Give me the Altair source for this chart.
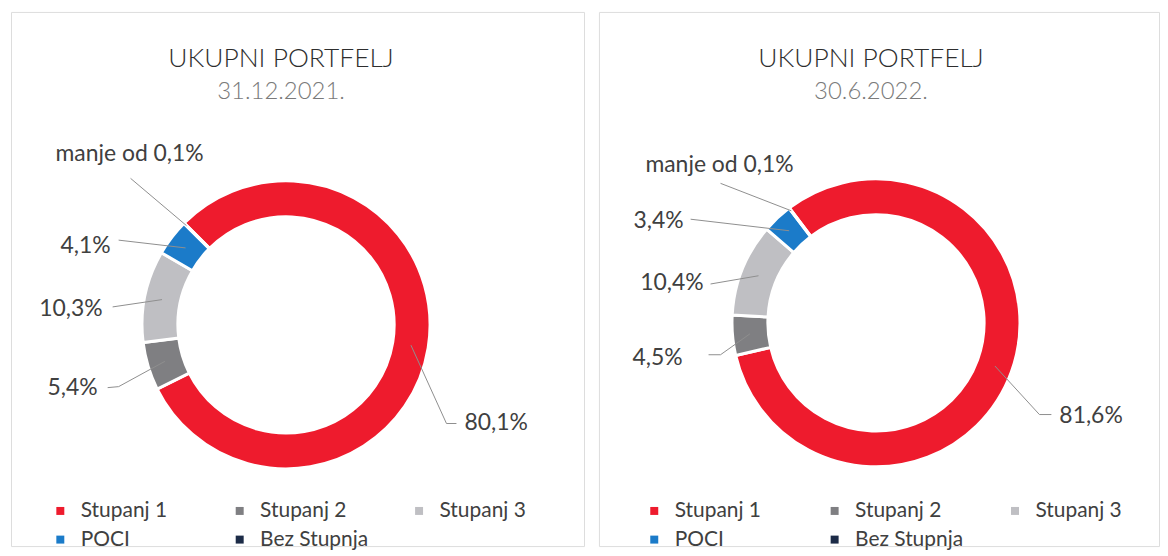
import math
import altair as alt
import pandas as pd

# ---------------- data ----------------
categories = ["Stupanj 1", "Stupanj 2", "Stupanj 3", "POCI", "Bez Stupnja"]
values_2021 = [80.1, 5.4, 10.3, 4.1, 0.05]
values_2022 = [81.6, 4.5, 10.4, 3.4, 0.05]
labels_2021 = ["80,1%", "5,4%", "10,3%", "4,1%", "manje od 0,1%"]
labels_2022 = ["81,6%", "4,5%", "10,4%", "3,4%", "manje od 0,1%"]
panel_titles = ["UKUPNI PORTFELJ", "UKUPNI PORTFELJ"]
panel_dates = ["31.12.2021.", "30.6.2022."]

# ---------------- style / layout ----------------
colors = ["#ee1b2d", "#7f7f82", "#bfbfc3", "#1b7bc9", "#1c2b47"]
FONT = "Lato"
TEXT_COLOR = "#404040"
PANEL_W = [575, 562]
PANEL_H = 536
TOP = 10  # absolute y of panel top (page margin 8 + padding 2)
CENTER = [(276, 324 - TOP), (278, 322 - TOP)]
START_DEG = [315, 323]
R_OUT, R_IN = 144.5, 108.5
LEADER_R = 127

# label layout relative to donut centre: text anchor, alignment, leader points
layout_2021 = [
    dict(t=(179, 99), align="left", lead=[(171, 99), (161, 99)]),
    dict(t=(-189, 63), align="right", lead=[(-179, 63), (-168, 62)]),
    dict(t=(-184, -16), align="right", lead=[(-174, -18)]),
    dict(t=(-176, -79), align="right", lead=[(-168, -85)]),
    dict(t=(-157, -171), align="center", lead=[(-156, -147)], r=141),
]
layout_2022 = [
    dict(t=(184, 93), align="left", lead=[(176, 92), (164, 92)]),
    dict(t=(-194, 35), align="right", lead=[(-168, 32), (-156, 32)]),
    dict(t=(-173, -40), align="right", lead=[(-166, -39)]),
    dict(t=(-193, -102), align="right", lead=[(-186, -104)]),
    dict(t=(-157, -158), align="center", lead=[(-156, -140)], r=141),
]
LEGEND_X = [39, 45]
LEGEND_Y = 490
LEGEND_COLPAD = [40, 41]


def panel(i, values, labels, layout):
    cx, cy = CENTER[i]
    start = math.radians(START_DEG[i])
    df = pd.DataFrame({"cat": categories, "value": values, "label": labels,
                       "idx": list(range(len(categories)))})

    arcs = alt.Chart(df).mark_arc(
        outerRadius=R_OUT, innerRadius=R_IN, stroke="white", strokeWidth=3
    ).encode(
        theta=alt.Theta("value:Q", stack=True,
                        scale=alt.Scale(range=[start, start + 2 * math.pi])),
        order=alt.Order("idx:Q"),
        color=alt.Color(
            "cat:N",
            scale=alt.Scale(domain=categories, range=colors),
            legend=alt.Legend(
                title=None, orient="none", legendX=LEGEND_X[i], legendY=LEGEND_Y,
                direction="horizontal", columns=3, gridAlign="all",
                columnPadding=LEGEND_COLPAD[i], rowPadding=7,
                symbolType="square", symbolSize=64, symbolStrokeWidth=0,
                labelFont=FONT, labelFontSize=21, labelColor=TEXT_COLOR,
                labelOffset=10, labelLimit=300,
            ),
        ),
        x=alt.value(cx),
        y=alt.value(cy),
    )

    # leader lines (end at each slice's mid-angle)
    total = sum(values)
    cum = 0.0
    rows, trows = [], []
    for k, (v, lay) in enumerate(zip(values, layout)):
        mid = start + 2 * math.pi * (cum + v / 2) / total
        cum += v
        r = lay.get("r", LEADER_R)
        pts = [(cx + dx, cy + dy) for dx, dy in lay["lead"]]
        pts.append((cx + r * math.sin(mid), cy - r * math.cos(mid)))
        for j, (px, py) in enumerate(pts):
            rows.append({"cat": categories[k], "seq": j, "px": px, "py": py})
        trows.append({"cat": categories[k], "label": labels[k],
                      "px": cx + lay["t"][0], "py": cy + lay["t"][1],
                      "align": lay["align"]})
    lines = alt.Chart(pd.DataFrame(rows)).mark_line(
        color="#8f8f8f", strokeWidth=1
    ).encode(
        x=alt.X("px:Q", scale=None, axis=None),
        y=alt.Y("py:Q", scale=None, axis=None),
        detail="cat:N",
        order="seq:Q",
    )
    tdf = pd.DataFrame(trows)
    texts = []
    for al in ["left", "right", "center"]:
        sub = tdf[tdf["align"] == al]
        if len(sub) == 0:
            continue
        texts.append(
            alt.Chart(sub).mark_text(
                align=al, baseline="middle", font=FONT, fontSize=23, color=TEXT_COLOR
            ).encode(
                x=alt.X("px:Q", scale=None, axis=None),
                y=alt.Y("py:Q", scale=None, axis=None),
                text="label:N",
            )
        )

    title = alt.Chart(pd.DataFrame({"t": [panel_titles[i]]})).mark_text(
        align="center", baseline="alphabetic", font=FONT, fontSize=26.5,
        fontWeight=300, color="#2e2e2e"
    ).encode(x=alt.value(cx - 5), y=alt.value(65 - TOP), text="t:N")
    date = alt.Chart(pd.DataFrame({"t": [panel_dates[i]]})).mark_text(
        align="center", baseline="alphabetic", font=FONT, fontSize=24,
        fontWeight=300, color="#7a7a7a"
    ).encode(x=alt.value(cx - 5), y=alt.value(97 - TOP), text="t:N")

    return alt.layer(arcs, lines, *texts, title, date).properties(
        width=PANEL_W[i], height=PANEL_H
    ).resolve_scale(x="independent", y="independent")


left = panel(0, values_2021, labels_2021, layout_2021)
right = panel(1, values_2022, labels_2022, layout_2022)

chart = alt.hconcat(left, right, spacing=13).resolve_scale(
    color="independent", theta="independent"
).properties(
    padding={"left": 2, "top": 2, "right": 0, "bottom": 0}
).configure_view(
    stroke="#ebebeb", strokeWidth=1
).configure(background="white")

chart.save("out.html", embed_options={"renderer": "svg", "actions": False})
